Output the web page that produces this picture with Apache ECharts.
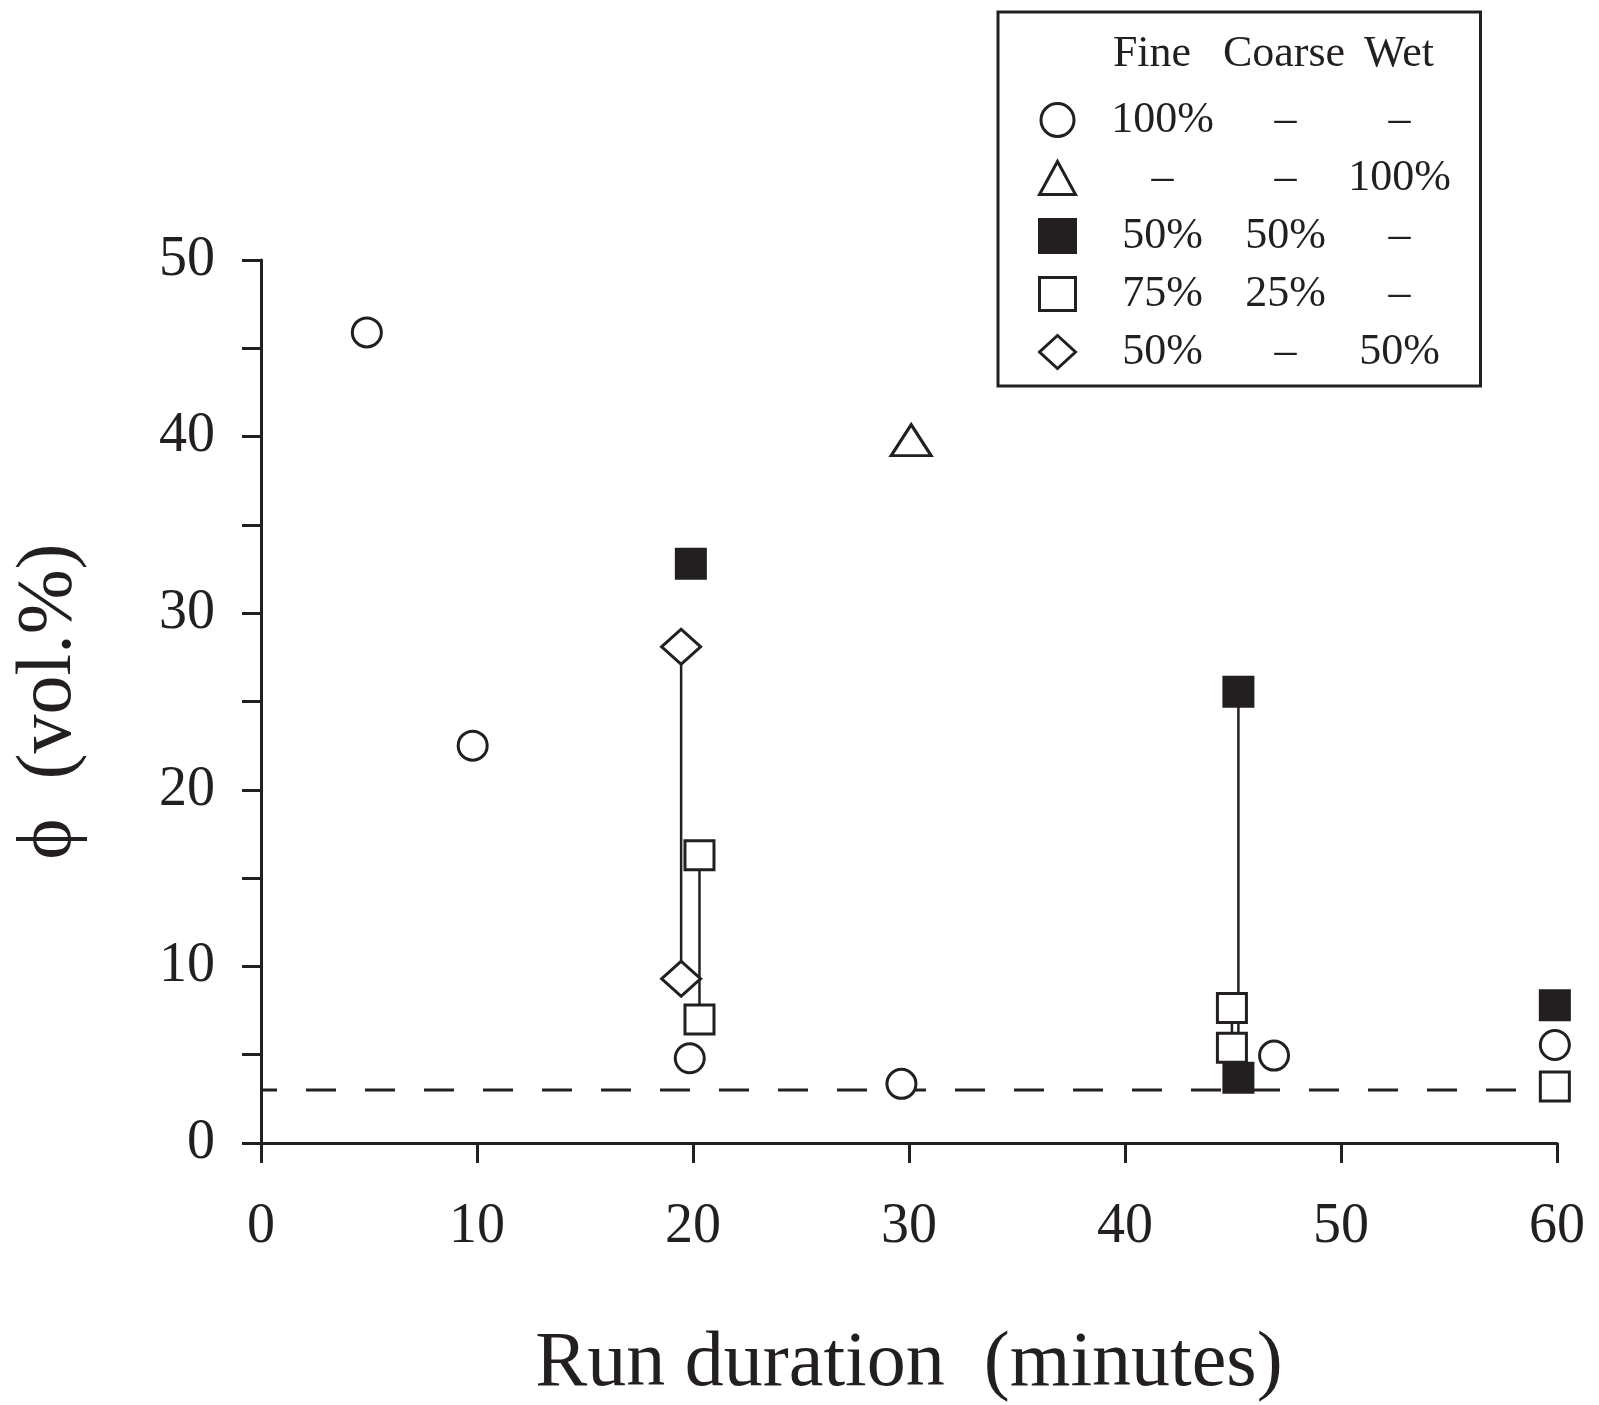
<!DOCTYPE html>
<html>
<head>
<meta charset="utf-8">
<script src="https://cdn.jsdelivr.net/npm/echarts@6/dist/echarts.min.js"></script>
<style>
  html, body { margin: 0; padding: 0; background: #fff; }
  #chart { width: 1599px; height: 1405px; }
</style>
</head>
<body>
<div id="chart"></div>
<script>
// run duration (minutes) and phi (vol.%) per mixture
const fineX = [4.9, 9.8, 19.85, 29.65, 46.9, 59.9];
const fineY = [45.9, 22.5, 4.8, 3.35, 4.95, 5.55];
const wetX = [30.1, 60.05];
const wetY = [39.8, 41.3];
const fc5050X = [19.9, 45.25, 45.25, 59.9];
const fc5050Y = [32.8, 25.55, 3.7, 7.8];
const fc7525X = [20.3, 20.3, 44.95, 44.95, 59.9];
const fc7525Y = [16.3, 7.0, 7.65, 5.4, 3.2];
const fw5050X = [19.45, 19.45];
const fw5050Y = [28.1, 9.3];

// dashed reference level
const refX = [0, 60];
const refY = 3;

// legend table
const seriesNames = ['Fine 100%', 'Wet 100%', 'Fine 50% Coarse 50%', 'Fine 75% Coarse 25%', 'Fine 50% Wet 50%'];
const legendHeader = ['Fine', 'Coarse', 'Wet'];
const colFine = ['100%', '–', '50%', '75%', '50%'];
const colCoarse = ['–', '–', '50%', '25%', '–'];
const colWet = ['–', '100%', '–', '–', '50%'];

const INK = '#231f20';
const FONT = 'Liberation Serif, DejaVu Serif, serif';

function pts(xs, ys) {
  return xs.map((x, i) => [x, ys[i]]);
}

const groups = {
  fine: pts(fineX, fineY),
  wet: pts(wetX, wetY),
  fc5050: pts(fc5050X, fc5050Y),
  fc7525: pts(fc7525X, fc7525Y),
  fw5050: pts(fw5050X, fw5050Y)
};

// pairs of points joined by a vertical line
const connectors = [['fw5050', 0, 1], ['fc7525', 0, 1], ['fc5050', 1, 2], ['fc7525', 2, 3]];

const chart = echarts.init(document.getElementById('chart'));

let series = [];
connectors.forEach(c => {
  series.push({
    type: 'line',
    data: [groups[c[0]][c[1]], groups[c[0]][c[2]]],
    symbol: 'none',
    silent: true,
    z: 2,
    lineStyle: { color: INK, width: 2.5 }
  });
});

series.push({
  type: 'line',
  data: refX.map(x => [x, refY]),
  symbol: 'none',
  silent: true,
  z: 1,
  lineStyle: { color: INK, width: 3, type: [30, 29], dashOffset: 14 }
});

function scatter(name, data, symbol, size, fill) {
  return {
    name: name,
    type: 'scatter',
    data: data,
    symbol: symbol,
    symbolSize: size,
    z: 3,
    itemStyle: { color: fill, borderColor: INK, borderWidth: 3, opacity: 1 }
  };
}

series.push(scatter(seriesNames[0], groups.fine, 'circle', 29, '#fff'));
series.push(scatter(seriesNames[1], groups.wet, 'triangle', [40, 31], '#fff'));
series.push(scatter(seriesNames[2], groups.fc5050, 'rect', 29, INK));
series.push(scatter(seriesNames[3], groups.fc7525, 'rect', 29, '#fff'));
series.push(scatter(seriesNames[4], groups.fw5050, 'diamond', [39, 35], '#fff'));

const headerX = [1152, 1284, 1399];

chart.setOption({
  animation: false,
  backgroundColor: '#fff',
  textStyle: { fontFamily: FONT, color: INK },
  grid: { left: 261, right: 42, top: 260, bottom: 262, outerBoundsMode: 'none' },
  legend: {
    data: seriesNames,
    orient: 'vertical',
    left: 998,
    top: 12,
    padding: [86, 8, 12, 40],
    itemWidth: 36,
    itemHeight: 33,
    itemGap: 14,
    selectedMode: false,
    borderColor: INK,
    borderWidth: 3,
    borderRadius: 0,
    itemStyle: { borderWidth: 3 },
    formatter: function (name) {
      const i = seriesNames.indexOf(name);
      return '{a|' + colFine[i] + '}{b|' + colCoarse[i] + '}{c|' + colWet[i] + '}';
    },
    textStyle: {
      fontFamily: FONT,
      fontSize: 44,
      color: INK,
      rich: {
        a: { width: 164, align: 'center', fontSize: 44, lineHeight: 30, fontFamily: FONT, color: INK },
        b: { width: 82, align: 'center', fontSize: 44, lineHeight: 30, fontFamily: FONT, color: INK },
        c: { width: 146, align: 'center', fontSize: 44, lineHeight: 30, fontFamily: FONT, color: INK }
      }
    }
  },
  graphic: legendHeader.map((t, i) => ({
    type: 'text',
    x: headerX[i],
    y: 54,
    style: {
      text: t,
      fontFamily: FONT,
      fontSize: 44,
      fill: INK,
      align: 'center',
      verticalAlign: 'middle'
    }
  })),
  xAxis: {
    type: 'value',
    min: 0,
    max: 60,
    interval: 10,
    name: 'Run duration  (minutes)',
    nameLocation: 'middle',
    nameGap: 183,
    nameTextStyle: { fontFamily: FONT, fontSize: 78, color: INK },
    axisLine: { show: true, lineStyle: { color: INK, width: 3 } },
    axisTick: { show: true, length: 20, lineStyle: { color: INK, width: 3 } },
    axisLabel: { fontFamily: FONT, fontSize: 56, color: INK, margin: 56 },
    splitLine: { show: false }
  },
  yAxis: {
    type: 'value',
    min: 0,
    max: 50,
    interval: 5,
    name: 'ϕ  (vol.%)',
    nameLocation: 'middle',
    nameGap: 172,
    nameTextStyle: { fontFamily: FONT, fontSize: 78, color: INK },
    axisLine: { show: true, lineStyle: { color: INK, width: 3 } },
    axisTick: { show: true, length: 19, lineStyle: { color: INK, width: 3 } },
    axisLabel: {
      fontFamily: FONT,
      fontSize: 56,
      color: INK,
      margin: 46,
      formatter: function (v) { return v % 10 === 0 ? String(v) : ''; }
    },
    splitLine: { show: false }
  },
  series: series
});
</script>
</body>
</html>
